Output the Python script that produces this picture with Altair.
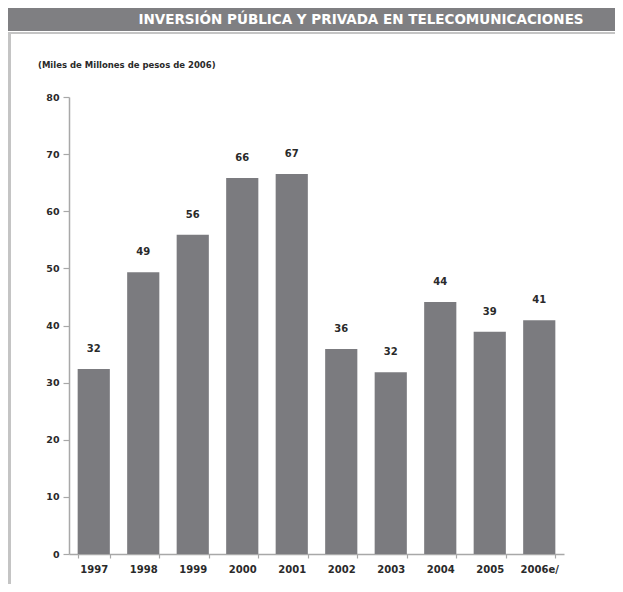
import altair as alt
import pandas as pd

years = ["1997", "1998", "1999", "2000", "2001", "2002", "2003", "2004", "2005", "2006e/"]
values = [32.4, 49.3, 55.9, 65.8, 66.5, 35.9, 31.8, 44.1, 38.9, 40.9]
labels = ["32", "49", "56", "66", "67", "36", "32", "44", "39", "41"]
y_ticks = [0, 10, 20, 30, 40, 50, 60, 70, 80]
title_text = "INVERSIÓN PÚBLICA Y PRIVADA EN TELECOMUNICACIONES"
subtitle_text = "(Miles de Millones de pesos de 2006)"

df = pd.DataFrame({"year": years, "value": values, "label": labels})
one = pd.DataFrame({"t": [title_text], "s": [subtitle_text]})

FONT = "DejaVu Sans"
BAR = "#7b7b7f"
FRAME = "#c4c4c4"

xenc = alt.X(
    "year:N", sort=years, title=None,
    scale=alt.Scale(paddingInner=0.35, paddingOuter=0.175),
    axis=alt.Axis(labelAngle=0, tickBand="extent", tickSize=4, labelPadding=6,
                  labelFont=FONT, labelFontSize=10, labelFontWeight="bold",
                  labelColor="#2a2a2a", domainColor="#a8a8a8", tickColor="#a8a8a8",
                  domainWidth=1.5, tickWidth=1.2),
)
yenc = alt.Y(
    "value:Q", title=None,
    scale=alt.Scale(domain=[0, 80], nice=False),
    axis=alt.Axis(values=y_ticks, grid=False, tickSize=6, labelPadding=4,
                  labelFont=FONT, labelFontSize=9.5, labelFontWeight="bold",
                  labelColor="#2a2a2a", domainColor="#a8a8a8", tickColor="#a8a8a8",
                  domainWidth=1.5, tickWidth=1.2),
)

bars = alt.Chart(df).mark_bar(color=BAR).encode(x=xenc, y=yenc)
bar_text = alt.Chart(df).mark_text(
    dy=-20, font=FONT, fontSize=10, fontWeight="bold", color="#2a2a2a", baseline="middle"
).encode(x=alt.X("year:N", sort=years), y="value:Q", text="label:N")

banner = alt.Chart(one).mark_rect(color="#7f7f82").encode(
    x=alt.value(-61), x2=alt.value(546), y=alt.value(-89), y2=alt.value(-66)
)
frame_top = alt.Chart(one).mark_rect(color=FRAME).encode(
    x=alt.value(-61), x2=alt.value(546), y=alt.value(-65), y2=alt.value(-63)
)
frame_left = alt.Chart(one).mark_rect(color=FRAME).encode(
    x=alt.value(-61), x2=alt.value(-58), y=alt.value(-65), y2=alt.value(490)
)
title = alt.Chart(one).mark_text(
    color="white", font=FONT, fontSize=13.5, fontWeight="bold", align="center", baseline="middle"
).encode(x=alt.value(292), y=alt.value(-77), text="t:N")
subtitle = alt.Chart(one).mark_text(
    color="#2a2a2a", font=FONT, fontSize=8.5, fontWeight="bold", align="left", baseline="middle"
).encode(x=alt.value(-31), y=alt.value(-32), text="s:N")

chart = alt.layer(banner, frame_top, frame_left, title, subtitle, bars, bar_text).properties(
    width=495, height=457,
    padding={"left": 61, "top": 89, "right": 51, "bottom": 30},
    autosize="none", background="white",
).configure_view(stroke=None)

chart.save("out.html", embed_options={"renderer": "svg", "actions": False})
